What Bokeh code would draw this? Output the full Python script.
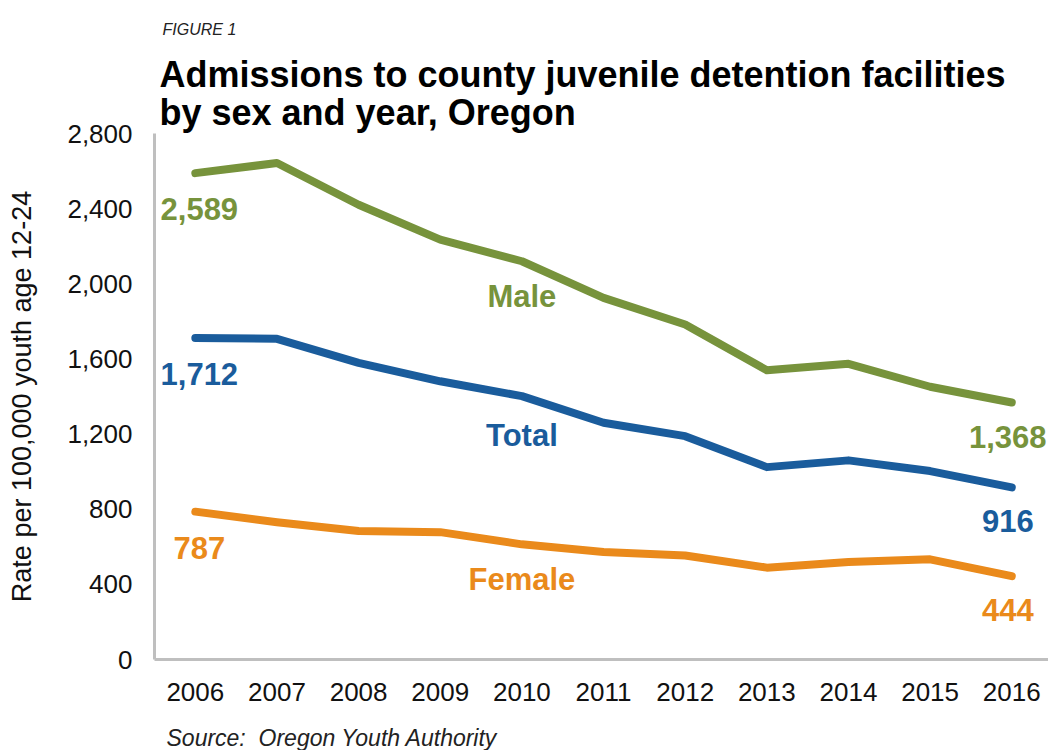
from bokeh.plotting import figure
from bokeh.models import ColumnDataSource, FixedTicker, NumeralTickFormatter, Range1d, Title
from bokeh.core.properties import value
from bokeh.embed import file_html
from bokeh.resources import INLINE

years = [2006, 2007, 2008, 2009, 2010, 2011, 2012, 2013, 2014, 2015, 2016]
male = [2589, 2643, 2421, 2235, 2120, 1925, 1783, 1540, 1574, 1452, 1368]
total = [1712, 1707, 1579, 1481, 1402, 1260, 1189, 1024, 1060, 1003, 916]
female = [787, 731, 684, 678, 613, 572, 554, 489, 519, 533, 444]
series_names = ["Male", "Total", "Female"]
y_ticks = [0, 400, 800, 1200, 1600, 2000, 2400, 2800]

title_text = "Admissions to county juvenile detention facilities\nby sex and year, Oregon"
figure_label = "FIGURE 1"
source_text = "Source:\u00a0 Oregon Youth Authority"
y_label = "Rate per 100,000 youth age 12-24"

GREEN = "#77933C"
BLUE = "#1A5C9C"
ORANGE = "#EA8A1B"
FONT = "Liberation Sans"

p = figure(width=1048, height=750, output_backend="svg", toolbar_location=None, title=None,
           x_range=Range1d(2005.5, 2016.45), y_range=Range1d(0, 2800),
           min_border_left=154, min_border_right=0, min_border_top=133, min_border_bottom=90)
p.outline_line_color = None
p.grid.visible = False
p.background_fill_color = "white"
p.border_fill_color = "white"

for ax in (p.xaxis[0], p.yaxis[0]):
    ax.axis_line_color = "#BFBFBF"
    ax.axis_line_width = 3
    ax.major_tick_line_color = None
    ax.minor_tick_line_color = None
    ax.major_tick_out = 0
    ax.major_label_text_font = FONT
    ax.major_label_text_font_size = "26px"
    ax.major_label_text_color = "#111111"

p.xaxis.ticker = FixedTicker(ticks=years)
p.xaxis.major_label_standoff = 23
# invisible spacer label that pushes the source line down
p.xaxis.axis_label = "\u00a0"
p.xaxis.axis_label_text_font_size = "8px"
p.xaxis.axis_label_text_alpha = 0
p.xaxis.axis_label_standoff = 7

p.yaxis.ticker = FixedTicker(ticks=y_ticks)
p.yaxis.formatter = NumeralTickFormatter(format="0,0")
p.yaxis.major_label_standoff = 22
p.yaxis.axis_label = y_label
p.yaxis.axis_label_text_font = FONT
p.yaxis.axis_label_text_font_size = "27px"
p.yaxis.axis_label_text_font_style = "normal"
p.yaxis.axis_label_text_color = "#111111"
p.yaxis.axis_label_standoff = 27

series = [(male, GREEN), (total, BLUE), (female, ORANGE)]
for vals, col in series:
    p.line(years, vals, line_color=col, line_width=8, line_cap="round", line_join="round")

# first / last value labels
for vals, col in series:
    src = ColumnDataSource(dict(x=[years[0], years[-1]], y=[vals[0], vals[-1]],
                                t=[f"{vals[0]:,}", f"{vals[-1]:,}"],
                                dx=[4, -4], dy=[36, 34]))
    p.text(x="x", y="y", text="t", source=src, x_offset="dx", y_offset="dy",
           text_align="center", text_baseline="middle", text_color=col,
           text_font=value(FONT), text_font_style="bold", text_font_size="31px")

# series name labels below the 2010 point
mid = years.index(2010)
name_dy = [35, 39, 35]
for name, (vals, col), dy in zip(series_names, series, name_dy):
    p.text(x=[years[mid]], y=[vals[mid]], text=[name], x_offset=0, y_offset=dy,
           text_align="center", text_baseline="middle", text_color=col,
           text_font=value(FONT), text_font_style="bold", text_font_size="31px")

# titles (first added sits closest to the frame)
p.add_layout(Title(text=title_text, align="left", offset=5, standoff=0,
                   text_font=FONT, text_font_style="bold", text_font_size="36px",
                   text_line_height=0.95, text_color="#000000"), "above")
p.add_layout(Title(text=figure_label, align="left", offset=8, standoff=28,
                   text_font=FONT, text_font_style="italic", text_font_size="16px",
                   text_color="#222222"), "above")
p.add_layout(Title(text=source_text, align="left", offset=12, standoff=0,
                   text_font=FONT, text_font_style="italic", text_font_size="23px",
                   text_color="#222222"), "below")

open("out.html", "w").write(file_html(p, INLINE))
